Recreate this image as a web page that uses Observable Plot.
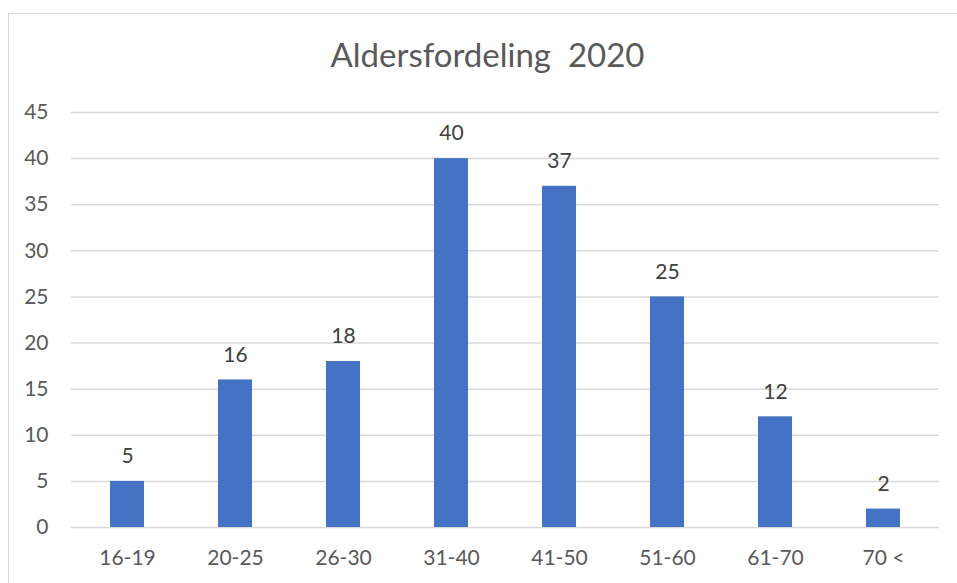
<!DOCTYPE html>
<html>
<head>
<meta charset="utf-8">
<script src="https://cdn.jsdelivr.net/npm/d3@7"></script>
<script src="https://cdn.jsdelivr.net/npm/@observablehq/plot@0.6"></script>
<style>
  html, body { margin: 0; padding: 0; background: #fff; }
  #wrap { position: relative; width: 957px; height: 583px; overflow: hidden; font-family: Lato, "Open Sans", sans-serif; }
  #frame { position: absolute; left: 8px; top: 13px; width: 1000px; height: 700px; border: 1.5px solid #d9d9d9; box-sizing: border-box; }
  #title { position: absolute; left: 9px; width: 957px; top: 34px; text-align: center; font-size: 33px; color: #595959; line-height: 40px; white-space: pre; }
  #chart { position: absolute; left: 0; top: 0; }
</style>
</head>
<body>
<div id="wrap">
  <div id="frame"></div>
  <div id="chart"></div>
  <div id="title">Aldersfordeling  2020</div>
</div>
<script>
const categories = ["16-19", "20-25", "26-30", "31-40", "41-50", "51-60", "61-70", "70 <"];
const values = [5, 16, 18, 40, 37, 25, 12, 2];
const yTicks = [0, 5, 10, 15, 20, 25, 30, 35, 40, 45];

const data = categories.map((c, i) => ({category: c, value: values[i]}));

const chart = Plot.plot({
  width: 957,
  height: 583,
  marginLeft: 71,
  marginRight: 18,
  marginTop: 112,
  marginBottom: 56,
  style: {fontFamily: "Lato, 'Open Sans', sans-serif", fontSize: "21px", color: "#595959", background: "transparent", overflow: "visible"},
  x: {domain: categories, paddingInner: 0.686, paddingOuter: 0.343, label: null},
  y: {domain: [0, 45], ticks: yTicks, label: null},
  marks: [
    Plot.gridY(yTicks, {stroke: "#d9d9d9", strokeOpacity: 1, strokeWidth: 1.5}),
    Plot.barY(data, {x: "category", y: "value", fill: "#4472c4"}),
    Plot.text(data, {x: "category", y: "value", text: d => String(d.value), dy: -25, fill: "#404040", fontSize: 21}),
    Plot.axisX({tickSize: 0, tickPadding: 23, fill: "#595959", label: null, fontSize: 21}),
    Plot.axisY({ticks: yTicks, tickSize: 0, tickPadding: 23, fill: "#595959", label: null, fontSize: 21})
  ]
});
document.getElementById("chart").appendChild(chart);
</script>
</body>
</html>
